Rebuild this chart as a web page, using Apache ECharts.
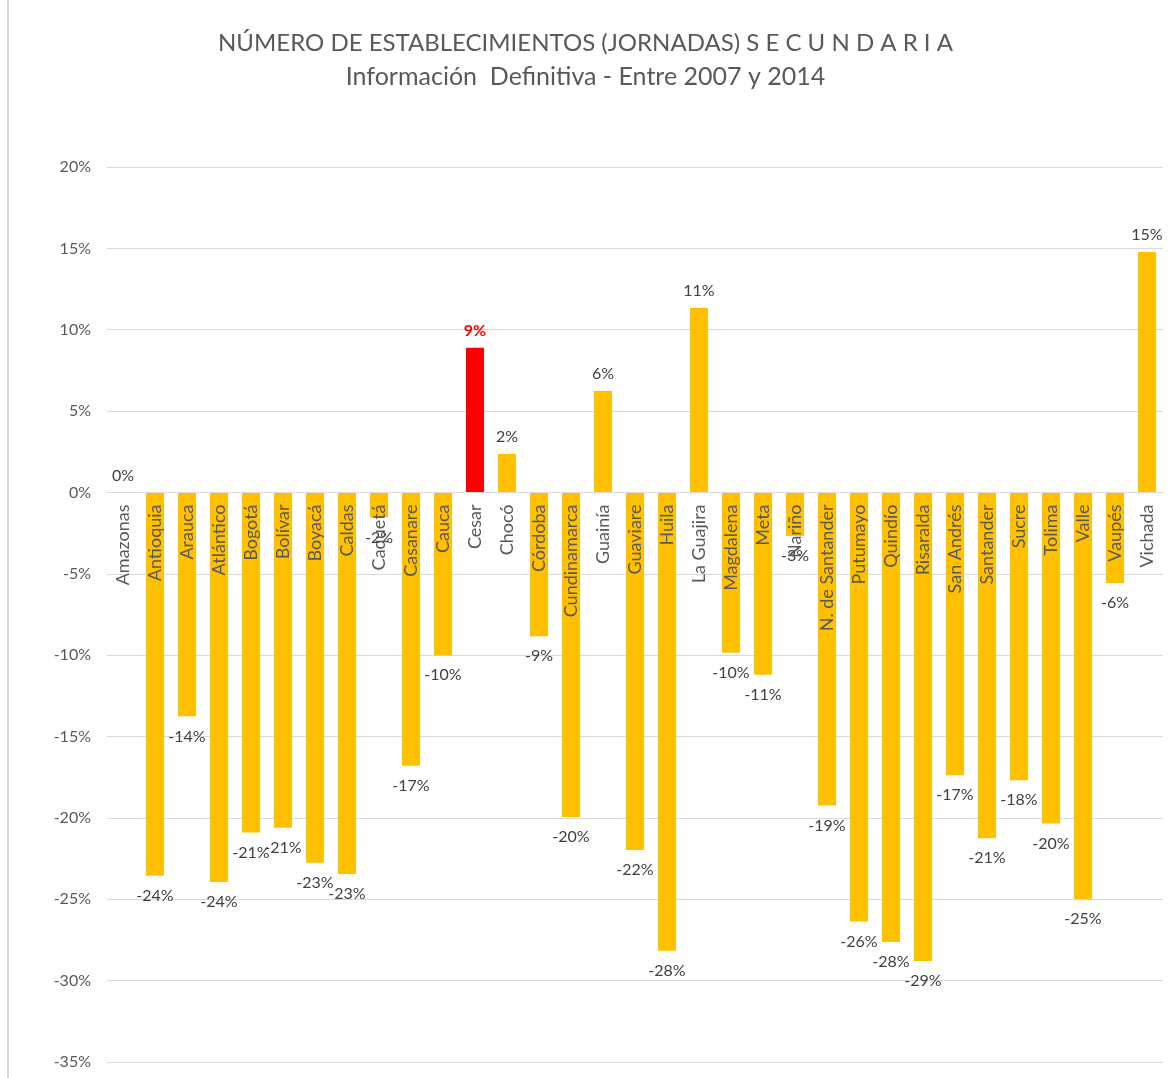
<!DOCTYPE html>
<html>
<head>
<meta charset="utf-8">
<script src="https://cdn.jsdelivr.net/npm/echarts@6/dist/echarts.min.js"></script>
<style>
  html, body { margin: 0; padding: 0; background: #ffffff; }
  #chart { width: 1171px; height: 1078px; }
</style>
</head>
<body>
<div id="chart"></div>
<script>
const titleLine1 = 'NÚMERO DE ESTABLECIMIENTOS (JORNADAS) S E C U N D A R I A';
const titleLine2 = 'Información  Definitiva - Entre 2007 y 2014';

const categories = ['Amazonas', 'Antioquia', 'Arauca', 'Atlántico', 'Bogotá', 'Bolívar', 'Boyacá', 'Caldas', 'Caquetá', 'Casanare', 'Cauca', 'Cesar', 'Chocó', 'Córdoba', 'Cundinamarca', 'Guainía', 'Guaviare', 'Huila', 'La Guajira', 'Magdalena', 'Meta', 'Nariño', 'N. de Santander', 'Putumayo', 'Quindío', 'Risaralda', 'San Andrés', 'Santander', 'Sucre', 'Tolima', 'Valle', 'Vaupés', 'Vichada'];

// percent change 2007-2014
const values = [0, -23.55, -13.76, -23.94, -20.9, -20.6, -22.75, -23.45, -1.54, -16.8, -10.0, 8.9, 2.37, -8.83, -19.95, 6.24, -21.97, -28.16, 11.34, -9.85, -11.2, -2.67, -19.23, -26.37, -27.62, -28.79, -17.38, -21.25, -17.69, -20.35, -25.0, -5.57, 14.78];

const highlightCategory = 'Cesar';

const yMin = -35, yMax = 20, yStep = 5;

const barColor = '#FFC000';
const highlightColor = '#FF0000';
const textColor = '#595959';
const labelColor = '#404040';
const gridColor = '#D9D9D9';
const fontFam = 'Lato, "Open Sans", sans-serif';

const W = 1171, H = 1078;
const gridTop = 167, gridBottom = 16;
// move the category axis from the bottom edge up to the zero line
const plotH = H - gridTop - gridBottom;
const zeroOffset = -plotH * (0 - yMin) / (yMax - yMin);

const seriesData = values.map((v, i) => {
  const hi = categories[i] === highlightCategory;
  return {
    value: v,
    itemStyle: { color: hi ? highlightColor : barColor },
    label: {
      position: v < 0 ? 'bottom' : 'top',
      distance: v < 0 ? 12 : 9,
      color: hi ? highlightColor : labelColor,
      fontWeight: hi ? 'bold' : 'normal'
    }
  };
});

const chart = echarts.init(document.getElementById('chart'), null, { renderer: 'canvas' });
chart.setOption({
  backgroundColor: '#ffffff',
  animation: false,
  title: [
    { text: titleLine1, left: 'center', top: 26, textStyle: { fontFamily: fontFam, fontSize: 24, fontWeight: 'normal', color: textColor } },
    { text: titleLine2, left: 'center', top: 59, textStyle: { fontFamily: fontFam, fontSize: 25, fontWeight: 'normal', color: textColor } }
  ],
  graphic: [
    { type: 'line', shape: { x1: 8, y1: 0, x2: 8, y2: H }, style: { stroke: gridColor, lineWidth: 2 } }
  ],
  grid: { left: 107, right: 8, top: gridTop, bottom: gridBottom, containLabel: false, outerBoundsMode: 'none' },
  xAxis: {
    type: 'category',
    data: categories,
    position: 'bottom',
    offset: zeroOffset,
    axisLine: { onZero: false, lineStyle: { color: gridColor, width: 1 } },
    axisTick: { show: false },
    axisLabel: {
      interval: 0, rotate: 90, margin: 12,
      fontFamily: fontFam, fontSize: 18, color: textColor
    },
    z: 10
  },
  yAxis: {
    type: 'value',
    min: yMin, max: yMax, interval: yStep,
    axisLine: { show: false },
    axisTick: { show: false },
    axisLabel: {
      formatter: '{value}%', margin: 16,
      fontFamily: fontFam, fontSize: 16, color: textColor
    },
    splitLine: { lineStyle: { color: gridColor, width: 1 } }
  },
  series: [{
    type: 'bar',
    data: seriesData,
    barWidth: 18,
    z: 2,
    label: {
      show: true,
      fontFamily: fontFam, fontSize: 16,
      formatter: p => Math.round(p.value) + '%'
    }
  }]
});
</script>
</body>
</html>
